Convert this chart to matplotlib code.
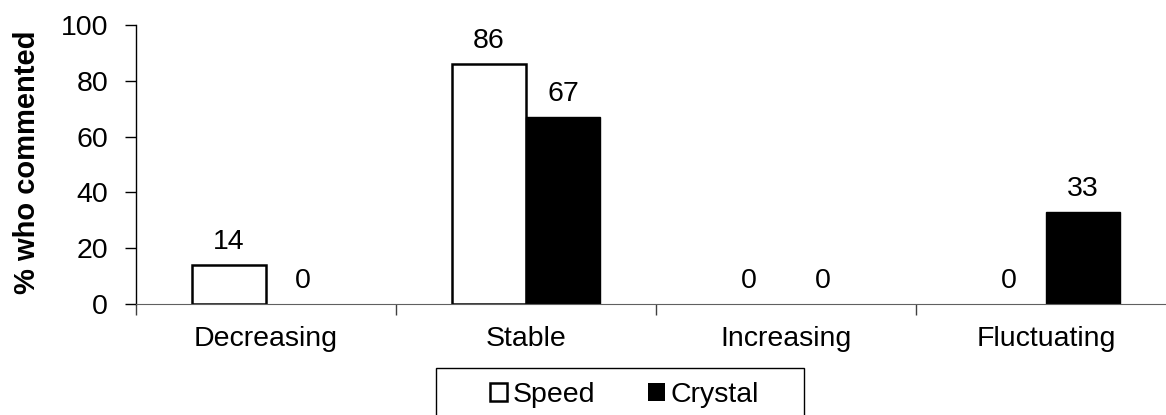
import matplotlib
matplotlib.use("Agg")
from matplotlib import pyplot as plt
from matplotlib.patches import Rectangle
import numpy as np

categories = ["Decreasing", "Stable", "Increasing", "Fluctuating"]
speed = [14, 86, 0, 0]
crystal = [0, 67, 0, 33]
series_names = ["Speed", "Crystal"]

plt.rcParams["font.family"] = ["Liberation Sans", "DejaVu Sans"]
plt.rcParams["font.size"] = 20.5

W, H = 1166, 415
fig = plt.figure(figsize=(W / 100, H / 100), dpi=100)
# axes runs off the right edge, as in the original
ax = fig.add_axes([136 / W, 111 / H, 1040 / W, 279 / H])

x = np.arange(len(categories))
w = 0.285
b1 = ax.bar(x - w / 2, speed, w, color="white", edgecolor="black", linewidth=1.8,
            label=series_names[0])
b2 = ax.bar(x + w / 2, crystal, w, color="black", edgecolor="black", linewidth=1.0,
            label=series_names[1])
# empty bars show nothing
for bars, vals in ((b1, speed), (b2, crystal)):
    for p, v in zip(bars.patches, vals):
        if v == 0:
            p.set_linewidth(0)
ax.bar_label(b1, padding=7)
ax.bar_label(b2, padding=7)

ax.set_xlim(-0.5, len(categories) - 0.5)
ax.set_ylim(0, 100)
ax.set_yticks([0, 20, 40, 60, 80, 100])
ax.set_xticks(np.arange(-0.5, len(categories), 1.0))
ax.set_xticklabels([])
ax.set_xticks(x, minor=True)
ax.set_xticklabels(categories, minor=True)
ax.tick_params(axis="x", which="major", length=8, width=1, color="#404040")
ax.tick_params(axis="x", which="minor", length=0, pad=16)
ax.tick_params(axis="y", length=8, width=1, pad=12)

ax.spines["top"].set_visible(False)
ax.spines["right"].set_visible(False)
ax.spines["bottom"].set_color("#606060")
ax.spines["left"].set_linewidth(1)

ax.set_ylabel("% who commented", fontweight="bold", fontsize=21)
ax.yaxis.set_label_coords((41 - 136) / 1040, 0.507)

# legend box (runs off the bottom of the figure)
fig.patches.append(Rectangle((436 / W, -10 / H), (804 - 436) / W, (H - 368 + 10) / H,
                             transform=fig.transFigure, facecolor="white",
                             edgecolor="black", linewidth=1))
leg = fig.legend(handles=[b1, b2], loc="center left",
                 bbox_to_anchor=(490 / W, 1 - 395 / H), ncol=2, frameon=False,
                 handlelength=0.6, handleheight=0.6, handletextpad=0.2,
                 columnspacing=1.85, borderpad=0, borderaxespad=0)

fig.savefig("out.png", dpi=100)
